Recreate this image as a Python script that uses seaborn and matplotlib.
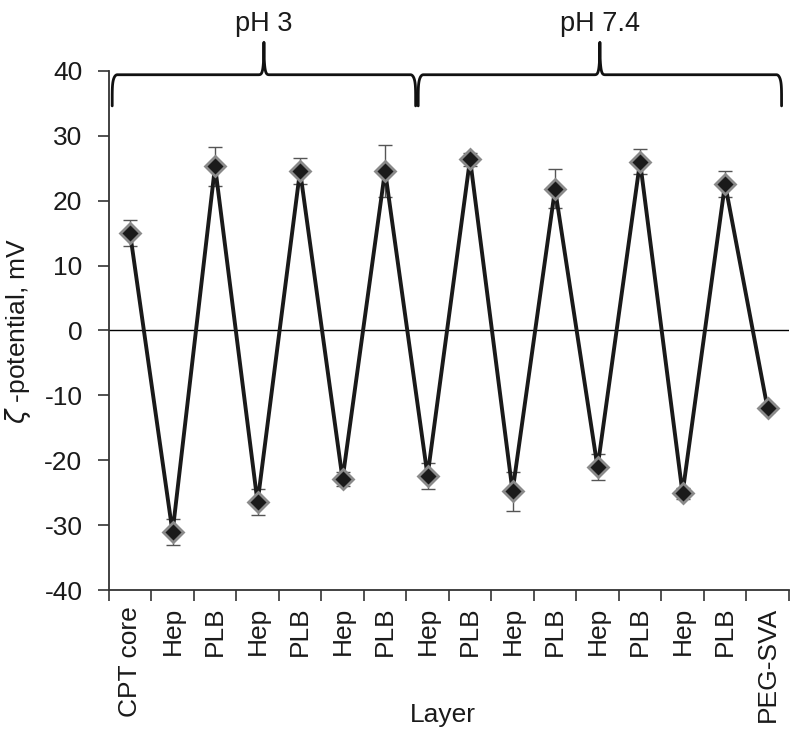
import numpy as np
import pandas as pd
import seaborn as sns
from matplotlib import pyplot as plt

# dados
layers = ["CPT core", "Hep", "PLB", "Hep", "PLB", "Hep", "PLB", "Hep",
          "PLB", "Hep", "PLB", "Hep", "PLB", "Hep", "PLB", "PEG-SVA"]
zeta = [15.0, -31.1, 25.3, -26.5, 24.6, -22.9, 24.6, -22.4,
        26.4, -24.8, 21.8, -21.1, 26.0, -25.1, 22.6, -12.0]
zeta_err = [2.0, 2.0, 3.0, 2.0, 2.0, 1.1, 4.0, 2.0,
            1.0, 3.0, 3.0, 2.0, 1.9, 0.8, 2.0, 0.6]
groups = ["pH 3", "pH 7.4"]
group_span = [(-0.42, 6.72), (6.78, 15.33)]

sns.set_style("white")
plt.rcParams['font.family'] = ['Liberation Sans', 'DejaVu Sans']
plt.rcParams['mathtext.fontset'] = 'dejavusans'
plt.rcParams['axes.unicode_minus'] = False

df = pd.DataFrame({"pos": np.arange(len(layers)), "zeta": zeta, "err": zeta_err})

fig = plt.figure(figsize=(8, 7.38), dpi=100)
ax = fig.add_axes([0.136, 0.2005, 0.85, 0.7035])

ax.errorbar(df["pos"], df["zeta"], yerr=df["err"], fmt='none', ecolor='#555555',
            elinewidth=1.0, capsize=5, capthick=1.0, zorder=2)
sns.lineplot(x="pos", y="zeta", data=df, ax=ax, color='#1a1a1a', linewidth=2.8,
             marker='D', markersize=10.5, markerfacecolor='#1a1a1a',
             markeredgecolor='#8a8a8a', markeredgewidth=2.0, zorder=3)

ax.axhline(0, color='black', linewidth=1.0, zorder=1)

ax.set_xlim(-0.5, len(layers) - 0.5)
ax.set_ylim(-40, 40)
ax.set_yticks(np.arange(-40, 41, 10))
ax.set_xticks(df["pos"])
ax.set_xticklabels(layers, rotation=90, fontsize=19)
ax.set_xticks(np.arange(-0.5, len(layers), 1.0), minor=True)
ax.tick_params(axis='x', which='major', bottom=True, length=0, pad=12)
ax.tick_params(axis='x', which='minor', bottom=True, length=8, width=1.2, color='#333333', direction='out')
ax.tick_params(axis='y', left=True, length=8, width=1.2, color='#333333', direction='out', labelsize=19, pad=11)
ax.tick_params(axis='both', labelcolor='#1a1a1a')
for s in ['top', 'right']:
    ax.spines[s].set_visible(False)
for s in ['left', 'bottom']:
    ax.spines[s].set_color('#333333')
    ax.spines[s].set_linewidth(1.3)

ax.set_xlabel("Layer", fontsize=19, color='#1a1a1a')
ax.set_ylabel(r"$\zeta$ -potential, mV", fontsize=19, color='#1a1a1a')
ax.xaxis.set_label_coords(0.491, -0.218)
ax.yaxis.set_label_coords(-0.111, 0.5)


# chaves dos grupos de pH
def brace(ax, x0, x1, y, h, tip, text):
    xm = (x0 + x1) / 2
    r = 0.12
    t = np.linspace(0, np.pi / 2, 20)
    xl = x0 + r - r * np.cos(t)
    yl = y - h + h * np.sin(t) ** 0.4
    xr = x1 - r + r * np.cos(t)
    xs = np.concatenate([xl, [xm - 0.15], xm - 0.15 + 0.15 * np.sin(t), xm + 0.15 * (1 - np.cos(t)),
                         [xm + 0.15], xr[::-1]])
    ys = np.concatenate([yl, [y], y + tip * (1 - np.cos(t)) ** 2, y + tip * (1 - np.sin(t)) ** 2,
                         [y], yl[::-1]])
    ax.plot(xs, ys, color='#111111', linewidth=2.0, clip_on=False, solid_capstyle='round')
    ax.text(xm, 47.2, text, ha='center', va='center', fontsize=19.5, color='#1a1a1a')


for (a, b), g in zip(group_span, groups):
    brace(ax, a, b, 39.4, 4.8, 5.0, g)

plt.savefig("out.png", dpi=100)
